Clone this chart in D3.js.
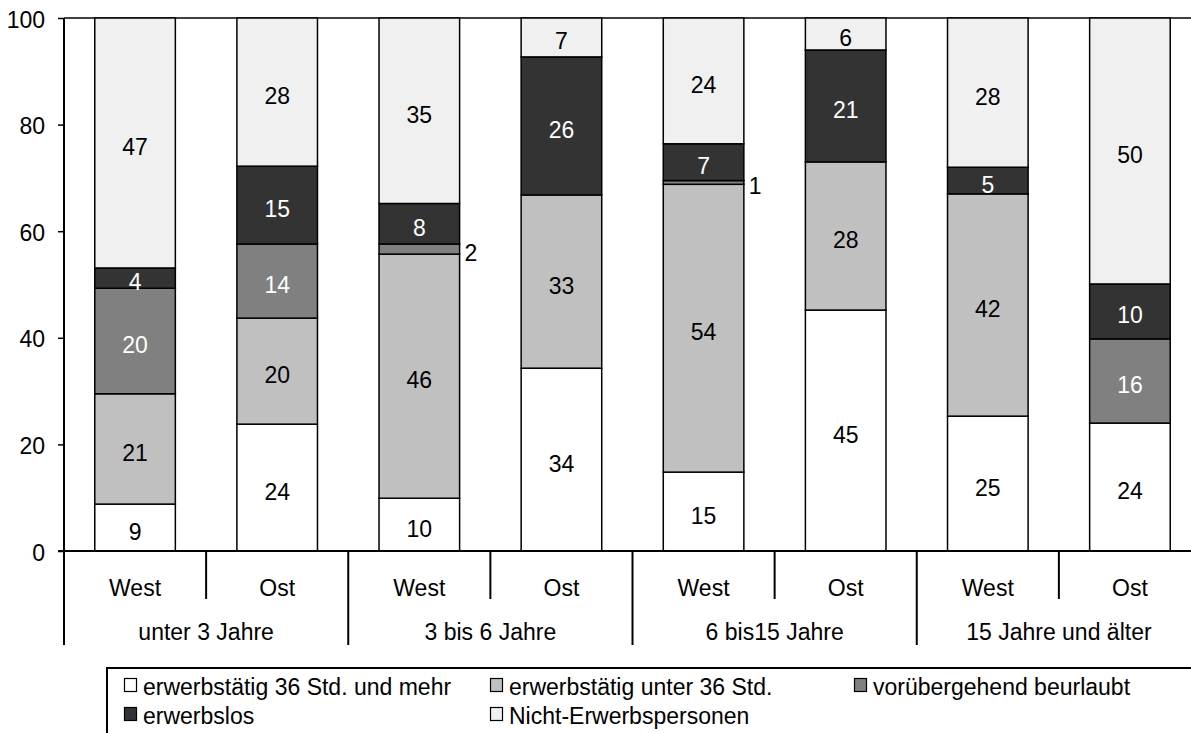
<!DOCTYPE html>
<html><head><meta charset="utf-8">
<script src="https://cdn.jsdelivr.net/npm/d3@7"></script>
<style>
html,body{margin:0;padding:0;background:#fff;}
text{font-family:"Liberation Sans",Arial,sans-serif;}
</style></head>
<body>
<svg id="c" width="1191" height="733"></svg>
<script>
const groups = ["unter 3 Jahre", "3 bis 6 Jahre", "6 bis15 Jahre", "15 Jahre und älter"];
const regions = ["West", "Ost"];
const seriesNames = ["erwerbstätig 36 Std. und mehr", "erwerbstätig unter 36 Std.", "vorübergehend beurlaubt", "erwerbslos", "Nicht-Erwerbspersonen"];
const seriesColors = ["#ffffff", "#c0c0c0", "#808080", "#333333", "#f0f0f0"];
const labelColors = ["#000", "#000", "#fff", "#fff", "#000"];
// bars in order: u3 West, u3 Ost, 3-6 West, 3-6 Ost, 6-15 West, 6-15 Ost, 15+ West, 15+ Ost
const full36     = [8.8, 23.8, 9.9, 34.3, 14.8, 45.2, 25.3, 24.0];
const under36    = [20.7, 19.9, 45.8, 32.5, 54.0, 27.8, 41.7, 0];
const beurlaubt  = [19.8, 13.9, 1.9, 0, 0.7, 0, 0, 15.8];
const erwerbslos = [3.8, 14.6, 7.6, 25.9, 6.9, 21.0, 5.0, 10.3];
const nicht      = [46.9, 27.8, 34.8, 7.3, 23.6, 6.0, 28.0, 49.9];
const yTicks = [0, 20, 40, 60, 80, 100];

const seriesVals = [full36, under36, beurlaubt, erwerbslos, nicht];
const bars = [];
groups.forEach((g, gi) => regions.forEach((r, ri) => bars.push({id: gi * 2 + ri, group: g, region: r})));

const svg = d3.select("#c");
const FS = 23;
const x0 = 64, x1 = 1201, yTop = 18, yBot = 551;
const x = d3.scaleBand().domain(bars.map(b => b.id)).range([x0, x1]).paddingInner(0.433).paddingOuter(0.2165);
const step = x.step();
const y = d3.scaleLinear().domain([0, 100]).range([yBot, yTop]);

// stacked data
const table = bars.map(b => {
  const o = {id: b.id};
  seriesNames.forEach((s, si) => o[s] = seriesVals[si][b.id]);
  return o;
});
const stack = d3.stack().keys(seriesNames)(table);

// top border line
svg.append("line").attr("x1", x0).attr("x2", x1).attr("y1", yTop).attr("y2", yTop)
  .attr("stroke", "#000").attr("stroke-width", 1.5);

// bars
stack.forEach((layer, si) => {
  const g = svg.append("g");
  layer.forEach((d, i) => {
    const v = d[1] - d[0];
    if (v <= 0) return;
    g.append("rect")
      .attr("x", x(i)).attr("width", x.bandwidth())
      .attr("y", y(d[1])).attr("height", y(d[0]) - y(d[1]))
      .attr("fill", seriesColors[si]).attr("stroke", "#000").attr("stroke-width", 1.5);
  });
});
// labels
stack.forEach((layer, si) => {
  layer.forEach((d, i) => {
    const v = d[1] - d[0];
    if (v <= 0) return;
    const mid = (y(d[0]) + y(d[1])) / 2;
    const outside = v < 3;
    svg.append("text")
      .attr("x", outside ? x(i) + x.bandwidth() + 5 : x(i) + x.bandwidth() / 2)
      .attr("y", mid + 12)
      .attr("text-anchor", outside ? "start" : "middle")
      .attr("font-size", FS)
      .attr("fill", outside ? "#000" : labelColors[si])
      .text(Math.round(v));
  });
});

// y axis
const yAxis = d3.axisLeft(y).tickValues(yTicks).tickSize(6).tickPadding(13).tickSizeOuter(0);
const ya = svg.append("g").attr("transform", `translate(${x0},0)`).call(yAxis);
ya.select(".domain").remove();
ya.selectAll(".tick line").attr("stroke", "#000").attr("stroke-width", 1.5);
ya.selectAll(".tick text").attr("font-size", FS).attr("font-family", "Liberation Sans, Arial, sans-serif")
  .attr("fill", "#000").attr("dy", null).attr("y", 9);
svg.append("line").attr("x1", x0).attr("x2", x0).attr("y1", yTop).attr("y2", 645)
  .attr("stroke", "#000").attr("stroke-width", 2);

// x axis baseline
svg.append("line").attr("x1", x0 - 6).attr("x2", x1).attr("y1", yBot).attr("y2", yBot)
  .attr("stroke", "#000").attr("stroke-width", 2);

// category separators & labels
bars.forEach((b, i) => {
  const left = x(i) - x.step() * x.paddingInner() / 2;
  const center = x(i) + x.bandwidth() / 2;
  svg.append("text").attr("x", center).attr("y", 596).attr("text-anchor", "middle")
    .attr("font-size", FS).attr("fill", "#000").text(b.region);
  if (i > 0) {
    const isGroup = (i % 2 === 0);
    svg.append("line").attr("x1", left).attr("x2", left).attr("y1", yBot).attr("y2", isGroup ? 645 : 599)
      .attr("stroke", "#000").attr("stroke-width", 2);
  }
});
groups.forEach((g, gi) => {
  const c = (x(gi * 2) + x(gi * 2 + 1) + x.bandwidth()) / 2;
  svg.append("text").attr("x", c).attr("y", 640).attr("text-anchor", "middle")
    .attr("font-size", FS).attr("fill", "#000").text(g);
});

// legend
svg.append("rect").attr("x", 107).attr("y", 668).attr("width", 1200).attr("height", 200)
  .attr("fill", "#fff").attr("stroke", "#000").attr("stroke-width", 2);
const colX = [124, 490, 854];
const rowY = [695, 724];
seriesNames.forEach((s, si) => {
  const cx = colX[si % 3], ry = rowY[Math.floor(si / 3)];
  svg.append("rect").attr("x", cx + 0.5).attr("y", ry - 16.5).attr("width", 12).attr("height", 13)
    .attr("fill", seriesColors[si]).attr("stroke", "#000").attr("stroke-width", 1.2);
  svg.append("text").attr("x", cx + 19).attr("y", ry).attr("font-size", FS).attr("fill", "#000").text(s);
});
</script>
</body></html>
